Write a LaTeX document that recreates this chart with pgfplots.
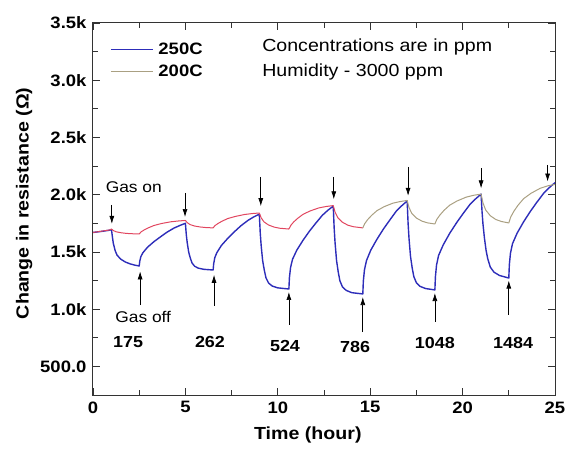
\documentclass[border=0pt]{standalone}
\usepackage{fontspec}
\setmainfont{Liberation Sans}[FakeStretch=1.12]
\usepackage{pgfplots}
\pgfplotsset{compat=1.18}
\usetikzlibrary{arrows.meta}
\definecolor{bl}{RGB}{45,45,185}
\definecolor{rd}{RGB}{225,70,95}
\definecolor{tn}{RGB}{170,160,130}
\tikzset{arr/.style={-{Latex[length=8pt,width=5pt]}, line width=0.7pt},
  num/.style={font=\fontsize{16}{18}\selectfont\bfseries}}
\begin{document}
\begin{tikzpicture}
\useasboundingbox (-93pt,-53pt) rectangle (477pt,395pt);
\begin{axis}[at={(0pt,0pt)}, anchor=south west, scale only axis, width=462pt, height=372pt,
 xmin=0, xmax=25, ymin=250, ymax=3500,
 xtick={0,5,10,15,20,25}, xticklabels={0,5,10,15,20,25},
 ytick={500,1000,1500,2000,2500,3000,3500}, yticklabels={500.0,1.0k,1.5k,2.0k,2.5k,3.0k,3.5k},
 minor x tick num=1, minor y tick num=1,
 tick align=inside, major tick length=7pt, minor tick length=5pt,
 axis line style={line width=1pt, black!80}, tick style={line width=0.8pt, black!80},
 ticklabel style={font=\fontsize{16.5}{18}\selectfont\bfseries},
 xticklabel style={yshift=-3pt}, yticklabel style={xshift=-3pt},
 xlabel={Time (hour)}, ylabel={Change in resistance (Ω)},
 label style={font=\fontsize{17.5}{20}\selectfont\bfseries},
 xlabel style={at={(axis description cs:0.465,-0.108)}, anchor=center},
 ylabel style={at={(axis description cs:-0.149,0.515)}, anchor=center},
 legend style={at={(axis cs:0.75,3345)}, anchor=north west, draw=none, fill=none,
   font=\fontsize{16.5}{19}\selectfont\bfseries, nodes={inner sep=0pt}, row sep=9pt,
   /tikz/every odd column/.style={column sep=5pt}},
 legend image code/.code={\draw[#1] (0pt,0pt) -- (42pt,0pt);},
 legend cell align=left,
]
\addplot[bl, line width=1.4pt, line join=round] coordinates {
(0,1670)(0.5,1680)(0.9,1690)(1.0,1695)
(1.05,1631)(1.1,1574)(1.2,1511)(1.3,1472)(1.5,1437)(1.75,1412)(2.0,1396)(2.25,1385)(2.5,1377)
(2.53,1418)(2.59,1459)(2.7,1493)(2.95,1541)(3.3,1590)(3.67,1634)(4.0,1672)(4.39,1709)(4.7,1731)(5.0,1750)
(5.05,1648)(5.1,1579)(5.18,1497)(5.27,1444)(5.36,1403)(5.5,1375)(5.7,1358)(6.0,1348)(6.5,1342)
(6.53,1396)(6.59,1449)(6.7,1493)(6.95,1557)(7.3,1620)(7.67,1679)(8.0,1728)(8.39,1776)(8.7,1806)(9.0,1830)
(9.05,1666)(9.1,1555)(9.18,1424)(9.27,1340)(9.36,1274)(9.5,1228)(9.7,1202)(10.0,1186)(10.6,1176)
(10.63,1277)(10.69,1364)(10.8,1437)(11.03,1516)(11.37,1603)(11.72,1683)(12.04,1748)(12.41,1820)(12.71,1864)(13.0,1900)
(13.05,1708)(13.1,1578)(13.18,1424)(13.27,1325)(13.36,1248)(13.5,1194)(13.7,1164)(14.0,1144)(14.6,1133)
(14.63,1247)(14.69,1344)(14.8,1425)(15.03,1515)(15.37,1612)(15.72,1701)(16.04,1774)(16.41,1856)(16.71,1904)(17.0,1945)
(17.05,1751)(17.1,1619)(17.18,1463)(17.27,1362)(17.36,1285)(17.5,1230)(17.7,1199)(18.0,1180)(18.5,1168)
(18.53,1285)(18.59,1386)(18.7,1469)(18.95,1561)(19.3,1662)(19.67,1754)(20.0,1829)(20.39,1913)(20.7,1963)(21.0,2005)
(21.05,1858)(21.1,1748)(21.18,1624)(21.27,1514)(21.36,1441)(21.5,1367)(21.7,1323)(22.0,1294)(22.5,1272)
(22.53,1389)(22.59,1489)(22.7,1572)(22.95,1664)(23.3,1763)(23.67,1855)(24.0,1930)(24.39,2013)(24.7,2063)(25.0,2105)
};
\addlegendentry{250C}
\addplot[rd, line width=1pt, line join=round, forget plot] coordinates {
(0,1670)(0.5,1682)(0.9,1692)(1.0,1700)
(1.1,1687)(1.25,1676)(1.5,1668)(1.8,1662)(2.1,1659)(2.5,1657)
(2.6,1675)(2.77,1692)(3.0,1711)(3.3,1731)(3.7,1748)(4.2,1763)(4.6,1770)(5.0,1775)
(5.1,1756)(5.25,1739)(5.5,1726)(5.8,1718)(6.1,1713)(6.5,1710)
(6.6,1730)(6.77,1749)(7.0,1770)(7.3,1792)(7.7,1810)(8.2,1827)(8.6,1835)(9.0,1840)
(9.1,1798)(9.25,1763)(9.5,1735)(9.8,1717)(10.1,1707)(10.6,1700)
(10.7,1731)(10.86,1762)(11.08,1794)(11.37,1829)(11.75,1858)(12.23,1885)(12.62,1897)(13.0,1905)
(13.1,1847)(13.25,1798)(13.5,1759)(13.8,1733)(14.1,1720)(14.6,1710)
};
\addplot[tn, line width=1pt, line join=round] coordinates {
(14.6,1710)(14.7,1746)(14.86,1782)(15.08,1820)(15.37,1861)(15.75,1895)(16.23,1926)(16.62,1940)(17.0,1950)
(17.1,1888)(17.25,1837)(17.5,1796)(17.8,1769)(18.1,1754)(18.5,1744)
(18.6,1783)(18.77,1822)(19.0,1864)(19.3,1908)(19.7,1945)(20.2,1979)(20.6,1995)(21.0,2005)
(21.1,1929)(21.25,1866)(21.5,1816)(21.8,1783)(22.1,1766)(22.5,1753)
(22.6,1804)(22.77,1854)(23.0,1908)(23.3,1965)(23.7,2012)(24.2,2056)(24.6,2077)(25.0,2090)
};
\addlegendentry{200C}
% gas on arrows
\draw[arr] (axis cs:1.02,1910) -- (axis cs:1.02,1745);
\draw[arr] (axis cs:4.98,2015) -- (axis cs:4.98,1805);
\draw[arr] (axis cs:9.08,2155) -- (axis cs:9.08,1900);
\draw[arr] (axis cs:13.03,2155) -- (axis cs:13.03,1960);
\draw[arr] (axis cs:17.05,2242) -- (axis cs:17.05,1990);
\draw[arr] (axis cs:21.0,2230) -- (axis cs:21.0,2055);
\draw[arr] (axis cs:24.6,2260) -- (axis cs:24.6,2115);
% gas off arrows
\draw[arr] (axis cs:2.55,1036) -- (axis cs:2.55,1330);
\draw[arr] (axis cs:6.55,1028) -- (axis cs:6.55,1300);
\draw[arr] (axis cs:10.6,862) -- (axis cs:10.6,1150);
\draw[arr] (axis cs:14.6,800) -- (axis cs:14.6,1106);
\draw[arr] (axis cs:18.5,888) -- (axis cs:18.5,1141);
\draw[arr] (axis cs:22.5,949) -- (axis cs:22.5,1250);
\node[anchor=west, font=\fontsize{15.5}{18}\selectfont] at (axis cs:0.5,2067) {Gas on};
\node[anchor=west, font=\fontsize{15.5}{18}\selectfont] at (axis cs:1.02,931) {Gas off};
\node[num] at (axis cs:1.9,713) {175};
\node[num] at (axis cs:6.33,713) {262};
\node[num] at (axis cs:10.39,678) {524};
\node[num] at (axis cs:14.18,670) {786};
\node[num] at (axis cs:18.5,704) {1048};
\node[num] at (axis cs:22.73,704) {1484};
\node[anchor=west, font=\fontsize{17.5}{20}\selectfont, inner sep=0pt] at (axis cs:9.15,3290) {Concentrations are in ppm};
\node[anchor=west, font=\fontsize{17.5}{20}\selectfont, inner sep=0pt] at (axis cs:9.15,3072) {Humidity - 3000 ppm};
\end{axis}
\end{tikzpicture}
\end{document}
